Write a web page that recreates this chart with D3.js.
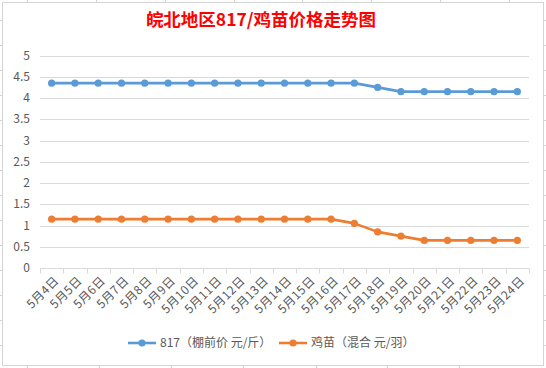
<!DOCTYPE html>
<html>
<head>
<meta charset="utf-8">
<script src="https://cdn.jsdelivr.net/npm/d3@7"></script>
<style>
  body { margin: 0; background: #fff; }
  svg text { font-family: "Noto Sans CJK SC", "Noto Sans", sans-serif; }
</style>
</head>
<body>
<div id="visualization"></div>
<script>
// data
let days = ["5月4日","5月5日","5月6日","5月7日","5月8日","5月9日","5月10日","5月11日","5月12日","5月13日","5月14日",
            "5月15日","5月16日","5月17日","5月18日","5月19日","5月20日","5月21日","5月22日","5月23日","5月24日"];
let broiler = [4.35,4.35,4.35,4.35,4.35,4.35,4.35,4.35,4.35,4.35,4.35,4.35,4.35,4.35,4.25,4.15,4.15,4.15,4.15,4.15,4.15];
let chick = [1.15,1.15,1.15,1.15,1.15,1.15,1.15,1.15,1.15,1.15,1.15,1.15,1.15,1.05,0.85,0.75,0.65,0.65,0.65,0.65,0.65];
let yTicks = [0,0.5,1,1.5,2,2.5,3,3.5,4,4.5,5];
let seriesNames = ["817（棚前价 元/斤）", "鸡苗（混合 元/羽）"];
let colors = ["#5b9bd5", "#ed7d31"];

let width = 546, height = 368;

let svg = d3.select("#visualization").append("svg")
  .attr("width", width).attr("height", height);

// spreadsheet cells showing behind the chart
let bg = svg.append("g").attr("stroke", "#d4d4d4").attr("stroke-width", 1);
[27, 96, 165, 234, 302, 371, 440, 509].forEach(x => {
  bg.append("line").attr("x1", x + .5).attr("x2", x + .5).attr("y1", 0).attr("y2", 3);
});
[27, 99, 171, 243, 316, 387, 459].forEach(x => {
  bg.append("line").attr("x1", x + .5).attr("x2", x + .5).attr("y1", 365).attr("y2", 368);
});
[20, 45, 70, 95, 120, 145, 170, 195, 220, 245, 270, 295, 320, 345].forEach(y => {
  bg.append("line").attr("x1", 0).attr("x2", 3).attr("y1", y + .5).attr("y2", y + .5);
  bg.append("line").attr("x1", 543).attr("x2", 546).attr("y1", y + .5).attr("y2", y + .5);
});

svg.append("rect")
  .attr("x", 2.5).attr("y", 2.5).attr("width", 541).attr("height", 363)
  .attr("fill", "#fff").attr("stroke", "#d4d4d4");

svg.append("text")
  .attr("x", 261).attr("y", 26)
  .attr("text-anchor", "middle")
  .attr("fill", "#ff0000")
  .attr("font-size", 17.5)
  .attr("font-weight", "bold")
  .text("皖北地区817/鸡苗价格走势图");

let x = d3.scaleBand().domain(days).range([40, 529]);
let y = d3.scaleLinear().domain([0, 5]).range([268, 55.5]);

// gridlines
svg.append("g").selectAll("line")
  .data(yTicks.filter(d => d > 0))
  .enter().append("line")
  .attr("x1", 40).attr("x2", 529)
  .attr("y1", d => Math.round(y(d)) + .5).attr("y2", d => Math.round(y(d)) + .5)
  .attr("stroke", "#d9d9d9");

// y labels
svg.append("g").selectAll("text")
  .data(yTicks)
  .enter().append("text")
  .attr("x", 30).attr("y", d => y(d))
  .attr("dy", ".35em")
  .attr("text-anchor", "end")
  .attr("font-size", 12)
  .attr("fill", "#595959")
  .text(d => d);

// x axis
let xAxis = svg.append("g")
  .attr("transform", "translate(0," + (Math.round(y(0)) + .5) + ")");
xAxis.append("line").attr("x1", 40).attr("x2", 529).attr("stroke", "#d9d9d9");
xAxis.selectAll(".tk")
  .data(days.concat(["end"]))
  .enter().append("line")
  .attr("x1", (d, i) => Math.round(40 + i * x.step()) + .5)
  .attr("x2", (d, i) => Math.round(40 + i * x.step()) + .5)
  .attr("y1", 0).attr("y2", 5)
  .attr("stroke", "#d9d9d9");
xAxis.selectAll("text")
  .data(days)
  .enter().append("text")
  .attr("transform", d => "translate(" + (x(d) + x.bandwidth() / 2 + 5) + ",10) rotate(-45)")
  .attr("text-anchor", "end")
  .attr("dy", ".35em")
  .attr("font-size", 12)
  .attr("letter-spacing", 0.5)
  .attr("fill", "#595959")
  .text(d => d);

// series
let line = d3.line()
  .x((d, i) => x(days[i]) + x.bandwidth() / 2)
  .y(d => y(d));

[broiler, chick].forEach((values, s) => {
  svg.append("path")
    .datum(values)
    .attr("d", line)
    .attr("fill", "none")
    .attr("stroke", colors[s])
    .attr("stroke-width", 2.6)
    .attr("stroke-linejoin", "round");
  svg.append("g").selectAll("circle")
    .data(values)
    .enter().append("circle")
    .attr("cx", (d, i) => x(days[i]) + x.bandwidth() / 2)
    .attr("cy", d => y(d))
    .attr("r", 3.6)
    .attr("fill", colors[s]);
});

// legend
let legendX = [128, 279];
seriesNames.forEach((name, s) => {
  let g = svg.append("g").attr("transform", "translate(" + legendX[s] + ",343)");
  g.append("line").attr("x1", 0).attr("x2", 28)
    .attr("stroke", colors[s]).attr("stroke-width", 2.6);
  g.append("circle").attr("cx", 14).attr("r", 3.6).attr("fill", colors[s]);
  g.append("text").attr("x", 32).attr("dy", ".35em")
    .attr("font-size", 12).attr("fill", "#595959")
    .text(name);
});
</script>
</body>
</html>
